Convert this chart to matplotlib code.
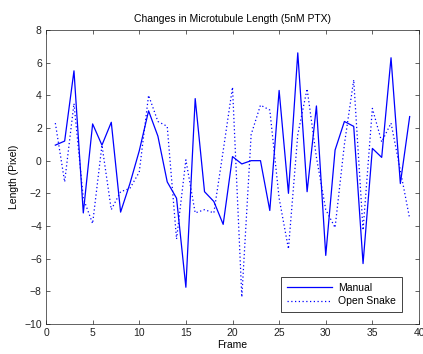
import matplotlib
matplotlib.use("Agg")
import matplotlib.pyplot as plt

frames = list(range(1, 40))
manual = [0.95, 1.2, 5.5, -3.2, 2.25, 0.95, 2.35, -3.15, -1.4, 0.6,
          3.05, 1.5, -1.3, -2.3, -7.75, 3.8, -1.9, -2.5, -3.9, 0.25,
          -0.2, 0.0, 0.0, -3.05, 4.3, -2.0, 6.6, -1.9, 3.35, -5.8,
          0.65, 2.4, 2.1, -6.3, 0.75, 0.2, 6.3, -1.4, 2.7]
open_snake = [2.3, -1.3, 3.5, -2.3, -3.85, 0.95, -3.0, -1.9, -1.7, -0.7,
              4.0, 2.4, 2.1, -4.8, 0.05, -3.2, -3.0, -3.2, 0.6, 4.5,
              -8.35, 1.6, 3.4, 3.1, -2.3, -5.4, 1.6, 4.4, 0.2, -3.0,
              -4.1, 1.0, 4.95, -4.25, 3.2, 1.15, 2.3, -0.6, -3.55]
xticks = list(range(0, 41, 5))
yticks = list(range(-10, 9, 2))

plt.rcParams['font.family'] = ['Liberation Sans', 'DejaVu Sans']
fs = 7.5

fig = plt.figure(figsize=(4.23, 3.54), dpi=100)
ax = fig.add_axes([46/423, 1-324/354, (419-46)/423, (324-30)/354])
ax.plot(frames, manual, '-', color='#0000ff', lw=0.9, label='Manual')
ax.plot(frames, open_snake, color='#0000ff', lw=0.9, linestyle=(0, (1, 2)), label='Open Snake')
ax.set_xlim(0, 40)
ax.set_ylim(-10, 8)
ax.set_xticks(xticks)
ax.set_yticks(yticks)
ax.tick_params(direction='in', top=True, right=True, labelsize=fs, length=3, width=0.5, colors='#222222', pad=3)
for s in ax.spines.values():
    s.set_linewidth(0.5)
    s.set_color('#222222')
ax.set_title('Changes in Microtubule Length (5nM PTX)', fontsize=fs, pad=6)
ax.set_xlabel('Frame', fontsize=fs, labelpad=1)
ax.set_ylabel('Length (Pixel)', fontsize=fs, labelpad=4)
leg = ax.legend(loc='lower right', fontsize=fs, fancybox=False, framealpha=1,
                edgecolor='#222222', handlelength=4.3, borderpad=0.55,
                labelspacing=0.35, borderaxespad=0, handletextpad=0.6,
                bbox_to_anchor=(0.954, 0.041))
leg.get_frame().set_linewidth(0.6)
fig.savefig('out.png', dpi=100)
